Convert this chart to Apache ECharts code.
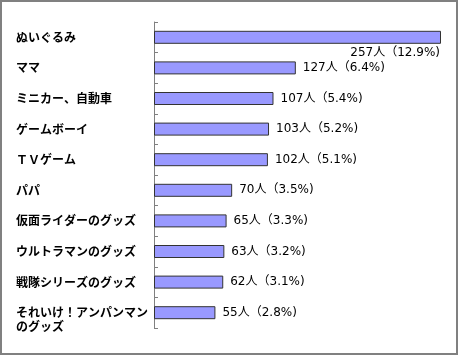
<!DOCTYPE html>
<html>
<head>
<meta charset="utf-8">
<script src="https://cdn.jsdelivr.net/npm/echarts@6/dist/echarts.min.js"></script>
<style>
html,body{margin:0;padding:0;background:#fff;}
#main{width:458px;height:355px;}
</style>
</head>
<body>
<div id="main"></div>
<script>
const categories = ['ぬいぐるみ','ママ','ミニカー、自動車','ゲームボーイ','ＴＶゲーム','パパ','仮面ライダーのグッズ','ウルトラマンのグッズ','戦隊シリーズのグッズ','それいけ！アンパンマン\nのグッズ'];
const counts = [257,127,107,103,102,70,65,63,62,55];
const percents = ['12.9','6.4','5.4','5.2','5.1','3.5','3.3','3.2','3.1','2.8'];

const chart = echarts.init(document.getElementById('main'));
const barData = counts.map((v, i) => i === 0
  ? {value: v, label: {position: ['100%', '100%'], align: 'right', verticalAlign: 'top', offset: [-1, 3]}}
  : v);

chart.setOption({
  animation: false,
  graphic: [{type: 'rect', shape: {x: 1, y: 1, width: 456, height: 353}, style: {fill: 'none', stroke: '#808080', lineWidth: 2}}],
  grid: {left: 154, right: 17, top: 22, bottom: 27, containLabel: false, outerBoundsMode: 'none'},
  xAxis: {type: 'value', min: 0, max: 257, show: false},
  yAxis: {
    type: 'category', inverse: true, data: categories,
    axisLine: {show: true, lineStyle: {color: '#808080'}},
    axisTick: {show: true, inside: true, length: 4, lineStyle: {color: '#808080'}},
    axisLabel: {
      align: 'left', margin: 138, color: '#000', fontSize: 12, fontWeight: 'bold',
      fontFamily: 'Noto Sans CJK JP', lineHeight: 14,
      formatter: v => v.indexOf('\n') >= 0 ? ' \n' + v : v
    }
  },
  series: [{
    type: 'bar', data: barData, barWidth: 13,
    itemStyle: {color: '#9999ff', borderColor: '#333', borderWidth: 1},
    label: {
      show: true, position: 'right', distance: 7, color: '#000', fontSize: 12,
      fontFamily: 'DejaVu Sans, Noto Sans CJK JP',
      formatter: p => counts[p.dataIndex] + '人（' + percents[p.dataIndex] + '%)'
    }
  }]
});
</script>
</body>
</html>
